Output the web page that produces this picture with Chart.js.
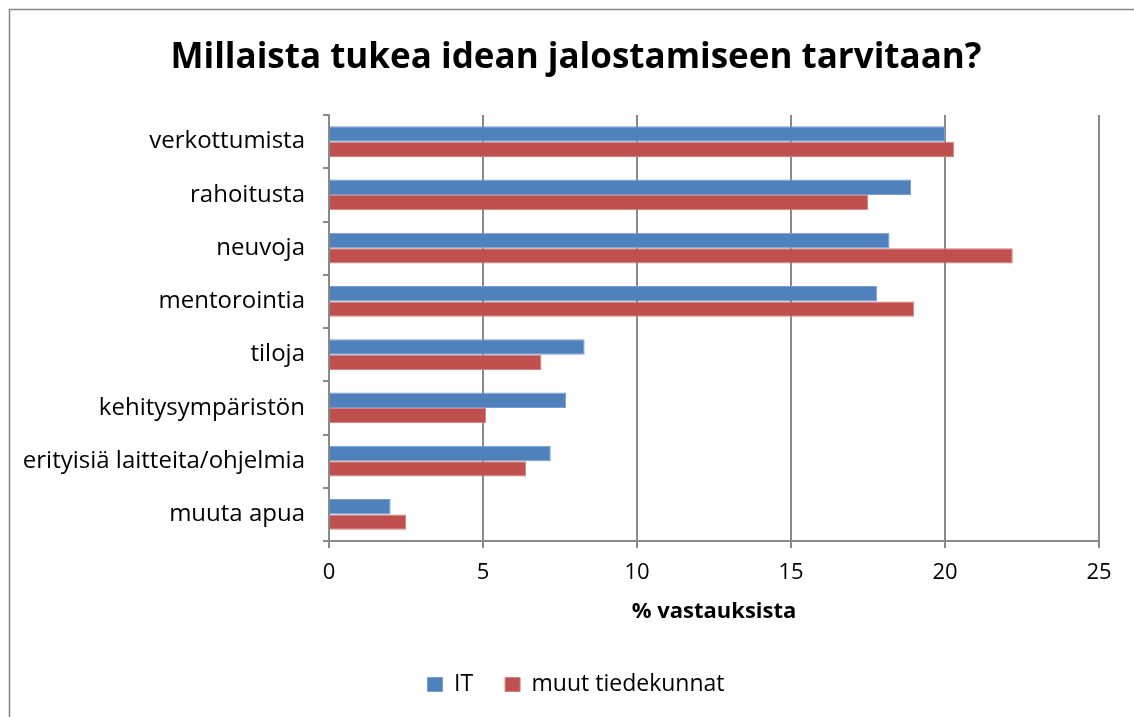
<!DOCTYPE html>
<html><head><meta charset="utf-8">
<script src="https://cdn.jsdelivr.net/npm/chart.js@4/dist/chart.umd.min.js"></script>
<style>html,body{margin:0;padding:0;background:#fff;}#wrap{width:1134px;height:717px;}</style>
</head><body><div id="wrap"><canvas id="c" width="1134" height="717"></canvas></div>
<script>
const categories = ["verkottumista","rahoitusta","neuvoja","mentorointia","tiloja","kehitysympäristön","erityisiä laitteita/ohjelmia","muuta apua"];
const itValues = [20.0, 18.9, 18.2, 17.8, 8.3, 7.7, 7.2, 2.0];
const muutValues = [20.3, 17.5, 22.2, 19.0, 6.9, 5.1, 6.4, 2.5];
const xTicks = [0, 5, 10, 15, 20, 25];
const FONT = "'Open Sans', Lato, sans-serif";
const border = {id:'border', beforeDraw(ch){const c=ch.ctx;c.save();c.strokeStyle='#868686';c.lineWidth=1.5;c.strokeRect(9.5,9.5,1300,900);c.restore();}};
new Chart(document.getElementById('c'), {
  type:'bar',
  data:{labels:categories, datasets:[
    {label:'IT', data:itValues, backgroundColor:'#4F81BD', borderColor:'#7A9ED0', borderWidth:1, categoryPercentage:0.58, barPercentage:1.0},
    {label:'muut tiedekunnat', data:muutValues, backgroundColor:'#C0504D', borderColor:'#D4817F', borderWidth:1, categoryPercentage:0.58, barPercentage:1.0}
  ]},
  options:{
    indexAxis:'y', responsive:false, animation:false,
    layout:{padding:{left:12,right:-6,top:0,bottom:11}},
    plugins:{
      title:{display:true, text:'Millaista tukea idean jalostamiseen tarvitaan?', color:'#000', font:{family:FONT, size:35, weight:'bold'}, padding:{top:37,bottom:36}},
      legend:{position:'bottom', labels:{color:'#000', font:{family:FONT, size:23}, boxWidth:15, boxHeight:14, padding:32}},
      tooltip:{enabled:false}
    },
    scales:{
      x:{min:0, max:25, afterBuildTicks(s){s.ticks=xTicks.map(v=>({value:v}));},
        ticks:{color:'#000', font:{family:FONT, size:22}, padding:12},
        grid:{color:'#8a8a8a', lineWidth:2, tickLength:7},
        border:{color:'#8a8a8a', width:2},
        title:{display:true, text:'% vastauksista', color:'#000', font:{family:FONT, size:22, weight:'bold'}, padding:{top:4,bottom:16}},
        afterFit(s){s.height=100;}
      },
      y:{ticks:{color:'#000', font:{family:FONT, size:24}, padding:18},
        grid:{offset:true, drawOnChartArea:false, color:'#8a8a8a', lineWidth:2, tickLength:6},
        border:{color:'#8a8a8a', width:2},
        afterFit(s){s.width=317;}
      },
      yRight:{type:'linear', position:'right', display:true, ticks:{display:false}, grid:{display:false}, border:{display:false},
        afterFit(s){s.width=41;}
      }
    }
  },
  plugins:[border]
});
</script></body></html>
